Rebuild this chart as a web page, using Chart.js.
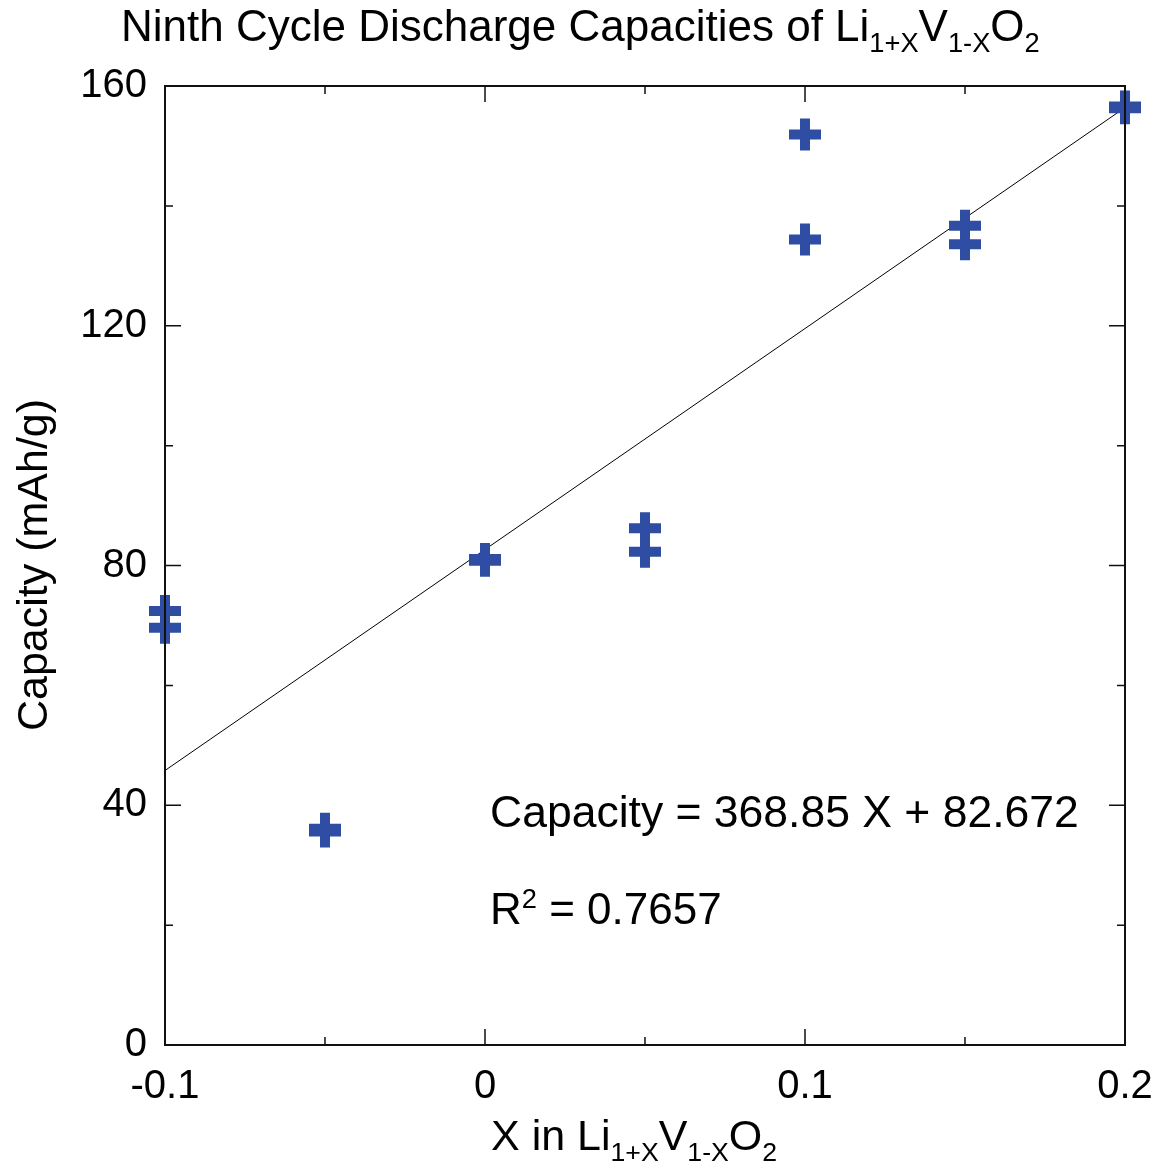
<!DOCTYPE html>
<html>
<head>
<meta charset="utf-8">
<script src="https://cdn.jsdelivr.net/npm/chart.js@4/dist/chart.umd.min.js"></script>
<style>
  body { margin: 0; background: #fff; }
  #wrap { width: 1168px; height: 1169px; }
</style>
</head>
<body>
<div id="wrap"><canvas id="chart" width="1168" height="1169"></canvas></div>
<script>
const FONT = '"Liberation Sans", Arial, Helvetica, sans-serif';

// X in Li(1+x)V(1-x)O2, two cells per composition
const xValues = [-0.1, -0.1, -0.05, -0.05, 0, 0, 0.05, 0.05, 0.1, 0.1, 0.15, 0.15, 0.2, 0.2];
const capacity = [72.4, 69.6, 36.1, 35.6, 81.1, 80.8, 86.2, 82.3, 151.9, 134.4, 136.7, 133.6, 156.6, 156.3];

// linear fit endpoints (Capacity = 368.85 X + 82.672)
const fitX = [-0.1, 0.2];
const fitY = [45.8, 156.4];

const xMajor = [-0.1, 0, 0.1, 0.2];
const xMinor = [-0.05, 0.05, 0.15];
const yMajor = [0, 40, 80, 120, 160];
const yMinor = [20, 60, 100, 140];

const markColor = "#2F4EA3";

const pointData = xValues.map((x, i) => ({ x: x, y: capacity[i] }));
const fitData = fitX.map((x, i) => ({ x: x, y: fitY[i] }));

// draws text with sub/superscript pieces, returns end x
const richText = (ctx, parts, x, y, size) => {
  ctx.textBaseline = "alphabetic";
  ctx.textAlign = "left";
  parts.forEach((p) => {
    let s = size, dy = 0;
    if (p.sub) { s = size * 0.62; dy = size * 0.26; }
    if (p.sup) { s = size * 0.62; dy = -size * 0.36; }
    ctx.font = s + "px " + FONT;
    ctx.fillText(p.t, x, y + dy);
    x += ctx.measureText(p.t).width;
  });
  return x;
};

const frame = {
  id: "frame",
  afterDatasetsDraw(chart) {
    const { ctx, chartArea: a, scales } = chart;
    const xs = scales.x, ys = scales.y;
    ctx.save();
    ctx.strokeStyle = "#111";
    ctx.lineWidth = 2;
    ctx.strokeRect(a.left, a.top, a.right - a.left, a.bottom - a.top);

    ctx.lineWidth = 1.5;
    const tick = (vals, len) => {
      vals.forEach((v) => {
        const px = xs.getPixelForValue(v);
        ctx.beginPath();
        ctx.moveTo(px, a.bottom); ctx.lineTo(px, a.bottom - len);
        ctx.moveTo(px, a.top); ctx.lineTo(px, a.top + len);
        ctx.stroke();
      });
    };
    const ytick = (vals, len) => {
      vals.forEach((v) => {
        const py = ys.getPixelForValue(v);
        ctx.beginPath();
        ctx.moveTo(a.left, py); ctx.lineTo(a.left + len, py);
        ctx.moveTo(a.right, py); ctx.lineTo(a.right - len, py);
        ctx.stroke();
      });
    };
    tick(xMajor, 16);
    tick(xMinor, 8);
    ytick(yMajor, 16);
    ytick(yMinor, 8);
    ctx.restore();
  },
  afterDraw(chart) {
    const { ctx } = chart;
    ctx.save();
    ctx.fillStyle = "#000";

    // title
    richText(ctx, [
      { t: "Ninth Cycle Discharge Capacities of Li" },
      { t: "1+X", sub: true },
      { t: "V" },
      { t: "1-X", sub: true },
      { t: "O" },
      { t: "2", sub: true },
    ], 121, 41, 44);

    // x axis title
    richText(ctx, [
      { t: "X in Li" },
      { t: "1+X", sub: true },
      { t: "V" },
      { t: "1-X", sub: true },
      { t: "O" },
      { t: "2", sub: true },
    ], 491, 1150, 43);

    // y axis title
    ctx.save();
    ctx.translate(47, 565);
    ctx.rotate(-Math.PI / 2);
    ctx.font = "43px " + FONT;
    ctx.textAlign = "center";
    ctx.textBaseline = "alphabetic";
    ctx.fillText("Capacity (mAh/g)", 0, 0);
    ctx.restore();

    // fit annotation
    richText(ctx, [{ t: "Capacity = 368.85 X + 82.672" }], 490, 827, 44.5);
    richText(ctx, [{ t: "R" }, { t: "2", sup: true }, { t: " = 0.7657" }], 490, 924, 44);
    ctx.restore();
  },
};

const tickFmt = (v) => String(Number(v.toFixed(2)));

new Chart(document.getElementById("chart"), {
  type: "scatter",
  data: {
    datasets: [
      {
        data: fitData,
        showLine: true,
        borderColor: "#000",
        borderWidth: 1,
        pointRadius: 0,
        fill: false,
        order: 2,
      },
      {
        data: pointData,
        showLine: false,
        clip: false,
        pointStyle: "cross",
        pointRadius: 16,
        pointBorderWidth: 10,
        borderColor: markColor,
        backgroundColor: markColor,
        order: 1,
      },
    ],
  },
  options: {
    responsive: false,
    animation: false,
    layout: { padding: { top: 86, right: 43, left: 0, bottom: 0 } },
    plugins: {
      legend: { display: false },
      tooltip: { enabled: false },
    },
    scales: {
      x: {
        type: "linear",
        min: -0.1,
        max: 0.2,
        afterFit: (s) => {
          s.height = 124;
          s.paddingLeft = 0;
          s.paddingRight = 0;
        },
        afterBuildTicks: (s) => { s.ticks = xMajor.map((v) => ({ value: v })); },
        grid: { display: false, drawTicks: false },
        border: { display: false },
        ticks: {
          padding: 18,
          color: "#000",
          font: { family: FONT, size: 40 },
          callback: tickFmt,
          maxRotation: 0,
        },
      },
      y: {
        type: "linear",
        min: 0,
        max: 160,
        afterFit: (s) => {
          s.width = 165;
          s.paddingTop = 0;
          s.paddingBottom = 0;
        },
        afterBuildTicks: (s) => { s.ticks = yMajor.map((v) => ({ value: v })); },
        grid: { display: false, drawTicks: false },
        border: { display: false },
        ticks: {
          padding: 18,
          color: "#000",
          font: { family: FONT, size: 40 },
        },
      },
    },
  },
  plugins: [frame],
});
</script>
</body>
</html>
